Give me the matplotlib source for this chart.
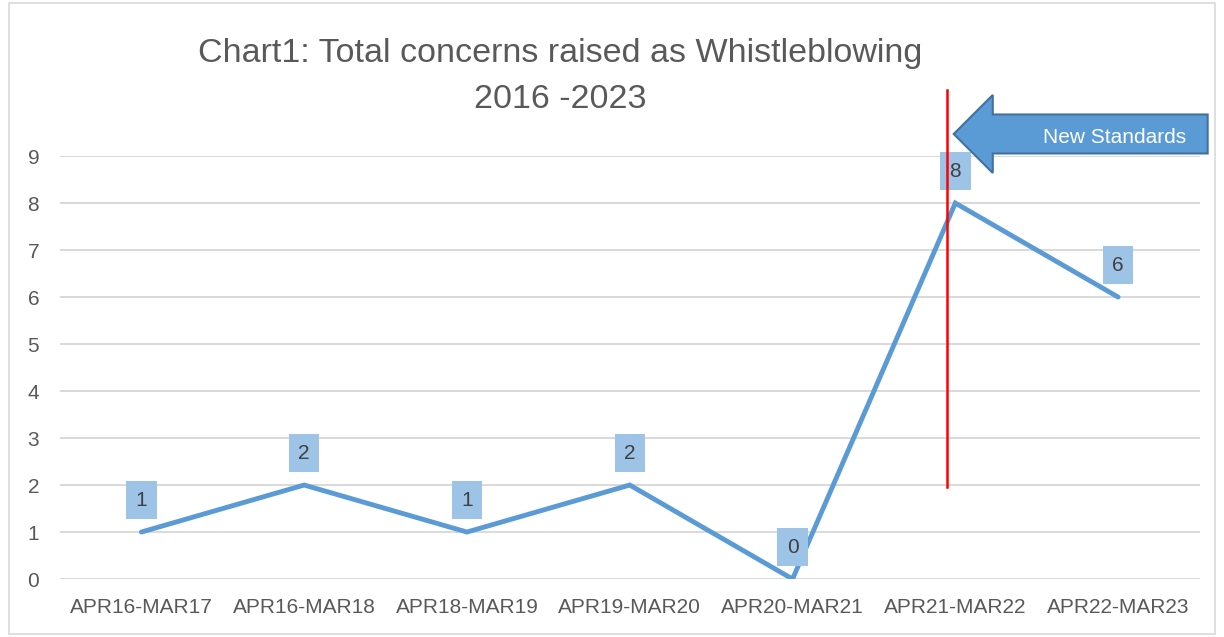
import matplotlib.pyplot as plt
from matplotlib.patches import FancyArrow, Rectangle

# data
periods = ["APR16-MAR17", "APR16-MAR18", "APR18-MAR19", "APR19-MAR20",
           "APR20-MAR21", "APR21-MAR22", "APR22-MAR23"]
concerns = [1, 2, 1, 2, 0, 8, 6]
y_ticks = list(range(0, 10))

title = "Chart1: Total concerns raised as Whistleblowing\n2016 -2023"
marker_label = "New Standards"

LINE_BLUE = "#5B9BD5"
LABEL_BOX = "#9DC3E6"
GRID = "#D9D9D9"
TEXT = "#595959"

plt.rcParams["font.family"] = ["Liberation Sans", "DejaVu Sans"]

fig = plt.figure(figsize=(12.24, 6.37), dpi=100)
ax = fig.add_axes([0.049, 0.091, 0.931, 0.664])

x = list(range(len(periods)))
ax.plot(x, concerns, color=LINE_BLUE, linewidth=3.5, solid_capstyle="round",
        solid_joinstyle="miter", zorder=3)

for xi, v in zip(x, concerns):
    ax.annotate(str(v), (xi, v), xytext=(0, 23), textcoords="offset points",
                ha="center", va="center", fontsize=15, color="#404040",
                bbox=dict(boxstyle="square,pad=0.45", fc=LABEL_BOX, ec="none"),
                zorder=4)

ax.set_xlim(-0.5, len(periods) - 0.5)
ax.set_ylim(0, 9)
ax.set_xticks(x)
ax.set_xticklabels(periods)
ax.set_yticks(y_ticks)
ax.tick_params(axis="both", length=0, labelsize=15, labelcolor=TEXT)
ax.tick_params(axis="x", pad=14)
ax.tick_params(axis="y", pad=15)
ax.yaxis.grid(True, color=GRID, linewidth=1.4)
ax.set_axisbelow(True)
for s in ax.spines.values():
    s.set_visible(False)

# red marker line for the new standards
ax.plot([4.95, 4.95], [1.96, 10.4], color="red", linewidth=1.8, zorder=5,
        clip_on=False)

arrow = FancyArrow(6.55, 9.47, -1.56, 0, width=0.83, head_width=1.66,
                   head_length=0.24, length_includes_head=True,
                   fc=LINE_BLUE, ec="#41719C", linewidth=1.5, clip_on=False,
                   zorder=6)
ax.add_patch(arrow)
ax.text(5.98, 9.4, marker_label, color="white", fontsize=15, ha="center",
        va="center", zorder=7)

fig.text(0.458, 0.88, title, ha="center", va="center", fontsize=24.5,
         color=TEXT, linespacing=1.62)

fig.add_artist(Rectangle((0.007, 0.005), 0.986, 0.99, transform=fig.transFigure,
                         fill=False, ec=GRID, linewidth=1.2))

fig.savefig("out.png", dpi=100)
